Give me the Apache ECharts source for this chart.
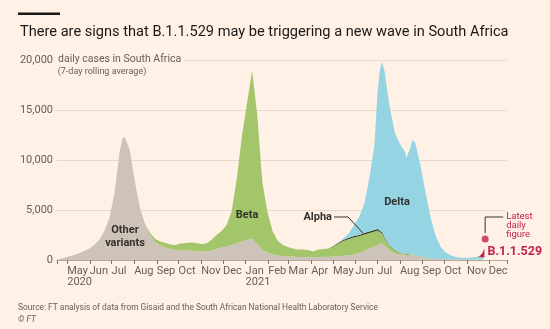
<!DOCTYPE html>
<html>
<head>
<meta charset="utf-8">
<script src="https://cdn.jsdelivr.net/npm/echarts@6/dist/echarts.min.js"></script>
<style>
  html, body { margin: 0; padding: 0; background: #FFF1E5; }
  #chart { width: 550px; height: 329px; }
</style>
</head>
<body>
<div id="chart"></div>
<script>
// Daily cases in South Africa (7-day rolling average), split by variant
const dates = [
  '2020-04-19','2020-04-26','2020-05-03','2020-05-10','2020-05-17','2020-05-24','2020-05-31',
  '2020-06-07','2020-06-14','2020-06-21','2020-06-28','2020-07-05','2020-07-12','2020-07-16',
  '2020-07-19','2020-07-26','2020-08-02','2020-08-09','2020-08-16','2020-08-23','2020-08-30',
  '2020-09-06','2020-09-13','2020-09-20','2020-09-27','2020-10-04','2020-10-11','2020-10-18',
  '2020-10-25','2020-11-01','2020-11-08','2020-11-15','2020-11-22','2020-11-29','2020-12-06',
  '2020-12-13','2020-12-20','2020-12-27','2021-01-03','2021-01-10','2021-01-17','2021-01-24',
  '2021-01-31','2021-02-07','2021-02-14','2021-02-21','2021-02-28','2021-03-07','2021-03-14',
  '2021-03-21','2021-03-28','2021-04-04','2021-04-11','2021-04-18','2021-04-25','2021-05-02',
  '2021-05-09','2021-05-16','2021-05-23','2021-05-30','2021-06-06','2021-06-13','2021-06-20',
  '2021-06-27','2021-07-01','2021-07-04','2021-07-07','2021-07-09','2021-07-11','2021-07-14',
  '2021-07-18','2021-07-25','2021-08-01','2021-08-08','2021-08-10','2021-08-15','2021-08-18',
  '2021-08-22','2021-08-29','2021-09-05','2021-09-12','2021-09-19','2021-09-26','2021-10-03',
  '2021-10-10','2021-10-17','2021-10-24','2021-10-31','2021-11-07','2021-11-14','2021-11-18',
  '2021-11-22','2021-11-25'
];
const otherVariants = [
  80, 200, 350, 500, 650, 900, 1100,
  1500, 2000, 2900, 4200, 6700, 10800, 12200,
  12300, 11000, 7800, 5200, 3600, 2500, 1800,
  1450, 1250, 1100, 1000, 1000, 950, 950,
  900, 850, 850, 950, 1100, 1250, 1350,
  1500, 1700, 1850, 2000, 2150, 1600, 1000,
  750, 550, 450, 400, 350, 350, 300,
  300, 300, 280, 300, 300, 320, 350,
  380, 420, 480, 550, 700, 900, 1150,
  1350, 1500, 1600, 1650, 1600, 1450, 1250,
  950, 650, 550, 500, 500, 500, 480,
  450, 350, 200, 150, 120, 100, 80,
  70, 60, 60, 60, 60, 60, 60,
  60, 60
];
const beta = [
  0, 0, 0, 0, 0, 0, 0,
  0, 0, 0, 0, 0, 0, 0,
  0, 0, 0, 0, 0, 200, 300,
  400, 450, 450, 500, 650, 750, 800,
  800, 750, 800, 1050, 1400, 1650, 2150,
  3400, 6500, 10550, 13700, 16750, 12900, 6800,
  4050, 2350, 1500, 1100, 950, 800, 750,
  750, 700, 570, 750, 800, 830, 1000,
  1300, 1500, 1620, 1720, 1680, 1650, 1560,
  1510, 1460, 1220, 1020, 860, 700, 550,
  420, 300, 180, 110, 80, 70, 60,
  50, 40, 30, 20, 15, 10, 10,
  5, 0, 0, 0, 0, 0, 0,
  0, 0
];
const alpha = [
  0, 0, 0, 0, 0, 0, 0,
  0, 0, 0, 0, 0, 0, 0,
  0, 0, 0, 0, 0, 0, 0,
  0, 0, 0, 0, 0, 0, 0,
  0, 0, 0, 0, 0, 0, 0,
  0, 0, 0, 0, 0, 0, 0,
  0, 0, 0, 0, 0, 0, 0,
  0, 0, 0, 0, 0, 0, 40,
  80, 100, 120, 130, 130, 140, 140,
  140, 140, 130, 120, 110, 100, 80,
  60, 40, 30, 20, 15, 10, 10,
  0, 0, 0, 0, 0, 0, 0,
  0, 0, 0, 0, 0, 0, 0,
  0, 0
];
const delta = [
  0, 0, 0, 0, 0, 0, 0,
  0, 0, 0, 0, 0, 0, 0,
  0, 0, 0, 0, 0, 0, 0,
  0, 0, 0, 0, 0, 0, 0,
  0, 0, 0, 0, 0, 0, 0,
  0, 0, 0, 0, 0, 0, 0,
  0, 0, 0, 0, 0, 0, 0,
  0, 0, 0, 0, 0, 0, 10,
  40, 180, 480, 1100, 1790, 2910, 5350,
  8500, 13400, 15850, 17010, 16830, 16550, 15320,
  13870, 11710, 10840, 10170, 9605, 10620, 11450,
  11200, 9110, 6570, 4130, 2265, 1190, 660,
  375, 240, 160, 140, 190, 240, 230,
  220, 200
];
const b11529 = [
  0, 0, 0, 0, 0, 0, 0,
  0, 0, 0, 0, 0, 0, 0,
  0, 0, 0, 0, 0, 0, 0,
  0, 0, 0, 0, 0, 0, 0,
  0, 0, 0, 0, 0, 0, 0,
  0, 0, 0, 0, 0, 0, 0,
  0, 0, 0, 0, 0, 0, 0,
  0, 0, 0, 0, 0, 0, 0,
  0, 0, 0, 0, 0, 0, 0,
  0, 0, 0, 0, 0, 0, 0,
  0, 0, 0, 0, 0, 0, 0,
  0, 0, 0, 0, 0, 0, 0,
  0, 0, 0, 0, 0, 0, 60,
  400, 900
];
// Latest single-day figure
const latestDaily = ['2021-11-26', 2100];

// Month ticks along the bottom axis
const tickMonths = [
  '2020-05','2020-06','2020-07','2020-08','2020-09','2020-10','2020-11',
  '2020-12','2021-01','2021-02','2021-03','2021-04','2021-05','2021-06',
  '2021-07','2021-08','2021-09','2021-10','2021-11','2021-12'
];
const tickLabels = [
  'May\n2020','Jun','Jul','Aug','Sep','Oct','Nov',
  'Dec','Jan\n2021','Feb','Mar','Apr','May','Jun',
  'Jul','Aug','Sep','Oct','Nov','Dec'
];
const yTicks = [0, 5000, 10000, 15000, 20000];

const BG = '#FFF1E5';
const INK = '#33302e';
const MUTED = '#66605c';
const RED = '#c0234a';
const FONT = 'Roboto, "Open Sans", sans-serif';

const DAY = 86400000;
const toTime = s => new Date(+s.slice(0, 4), +s.slice(5, 7) - 1, +s.slice(8, 10)).getTime();
const monthKey = v => {
  const d = new Date(v);
  return d.getFullYear() + '-' + String(d.getMonth() + 1).padStart(2, '0');
};

const chart = echarts.init(document.getElementById('chart'), null, { renderer: 'canvas' });

function areaSeries(name, values, color) {
  return {
    name, type: 'line', stack: 'cases', symbol: 'none', smooth: false,
    lineStyle: { width: 0 },
    areaStyle: { color, opacity: 1 },
    itemStyle: { color },
    emphasis: { disabled: true },
    data: dates.map((d, i) => [toTime(d), values[i]])
  };
}

chart.setOption({
  backgroundColor: BG,
  animation: false,
  textStyle: { fontFamily: FONT },
  grid: { left: 57, right: 43, top: 60, bottom: 69 },
  xAxis: {
    type: 'time',
    min: toTime('2020-04-17'),
    max: toTime('2021-12-26'),
    minInterval: 28 * DAY,
    maxInterval: 31 * DAY,
    axisLine: { show: true, onZero: false, lineStyle: { color: '#b3a99f', width: 1 } },
    axisTick: {
      show: true, length: 4, lineStyle: { color: '#7d7670' },
      interval: (i, v) => new Date(v).getDate() === 1
    },
    axisLabel: {
      formatter: v => {
        const d = new Date(v);
        if (d.getDate() !== 1) return '';
        const i = tickMonths.indexOf(monthKey(v));
        return i >= 0 ? tickLabels[i] : '';
      },
      showMinLabel: true, showMaxLabel: true, hideOverlap: false,
      align: 'left', margin: 6, color: MUTED, fontSize: 11, lineHeight: 11, fontFamily: FONT,
      fontWeight: 'normal'
    },
    splitLine: { show: false }
  },
  yAxis: {
    type: 'value', min: 0, max: 20000, interval: 5000,
    axisLine: { show: false }, axisTick: { show: false },
    axisLabel: {
      margin: 4, color: MUTED, fontSize: 11, fontFamily: FONT,
      formatter: v => yTicks.includes(v) ? v.toLocaleString('en-US') : ''
    },
    splitLine: { lineStyle: { color: '#e7dacd', width: 1 } }
  },
  series: [
    areaSeries('Other variants', otherVariants, '#cdc3b9'),
    areaSeries('Beta', beta, '#a3c66b'),
    areaSeries('Alpha', alpha, '#2d3a22'),
    areaSeries('Delta', delta, '#94d4e3'),
    areaSeries('B.1.1.529', b11529, RED),
    {
      name: 'Latest daily figure', type: 'scatter', symbol: 'circle', symbolSize: 7,
      itemStyle: { color: RED }, emphasis: { disabled: true },
      data: [[toTime(latestDaily[0]), latestDaily[1]]], z: 5
    }
  ]
});

// Annotations: title, units note, variant names, source line
const dot = chart.convertToPixel({ gridIndex: 0 }, [toTime(latestDaily[0]), latestDaily[1]]);
const lastIdx = dates.length - 1;
const tipTop = chart.convertToPixel({ gridIndex: 0 },
  [toTime(dates[lastIdx]), otherVariants[lastIdx] + beta[lastIdx] + alpha[lastIdx] + delta[lastIdx] + b11529[lastIdx]]);

const label = (text, x, y, extra) => ({
  type: 'text', x, y, z: 100,
  style: Object.assign({ text, fill: INK, font: `bold 11px ${FONT}`, align: 'center', verticalAlign: 'middle' }, extra || {})
});
const line = pts => ({ type: 'polyline', z: 100, shape: { points: pts }, style: { stroke: INK, lineWidth: 1, fill: null } });
const note = (text, x, y, font, fill, extra) => ({
  type: 'text', x, y, z: 100,
  style: Object.assign({ text, fill, font, verticalAlign: 'middle' }, extra || {})
});

chart.setOption({
  graphic: [
    { type: 'rect', z: 100, shape: { x: 18, y: 12.5, width: 42, height: 2.6 }, style: { fill: '#1a1817' } },
    note('There are signs that B.1.1.529 may be triggering a new wave in South Africa', 20, 32, `14.6px ${FONT}`, '#1a1817'),
    note('daily cases in South Africa', 57, 59, `10.5px ${FONT}`, MUTED, { backgroundColor: BG, padding: [1, 3, 1, 1] }),
    note('(7-day rolling average)', 102, 71.5, `9px ${FONT}`, MUTED, { align: 'center' }),
    label('Other', 125, 230),
    label('variants', 125, 243),
    label('Beta', 247, 215),
    label('Delta', 397, 202),
    label('Alpha', 332, 217, { align: 'right' }),
    line([[334, 217], [348, 217], [363, 233]]),
    line([[dot[0], dot[1] - 6], [dot[0], dot[1] - 22], [dot[0] + 18, dot[1] - 22]]),
    note('Latest', dot[0] + 21, dot[1] - 22, `9.5px ${FONT}`, RED),
    note('daily', dot[0] + 21, dot[1] - 13, `9.5px ${FONT}`, RED),
    note('figure', dot[0] + 21, dot[1] - 4, `9.5px ${FONT}`, RED),
    note('B.1.1.529', tipTop[0] + 3, tipTop[1] + 3, `bold 12.5px ${FONT}`, RED),
    note('Source: FT analysis of data from Gisaid and the South African National Health Laboratory Service', 18, 308, `8.4px ${FONT}`, MUTED),
    note('© FT', 18, 320, `italic 8.4px ${FONT}`, MUTED)
  ]
});
</script>
</body>
</html>
